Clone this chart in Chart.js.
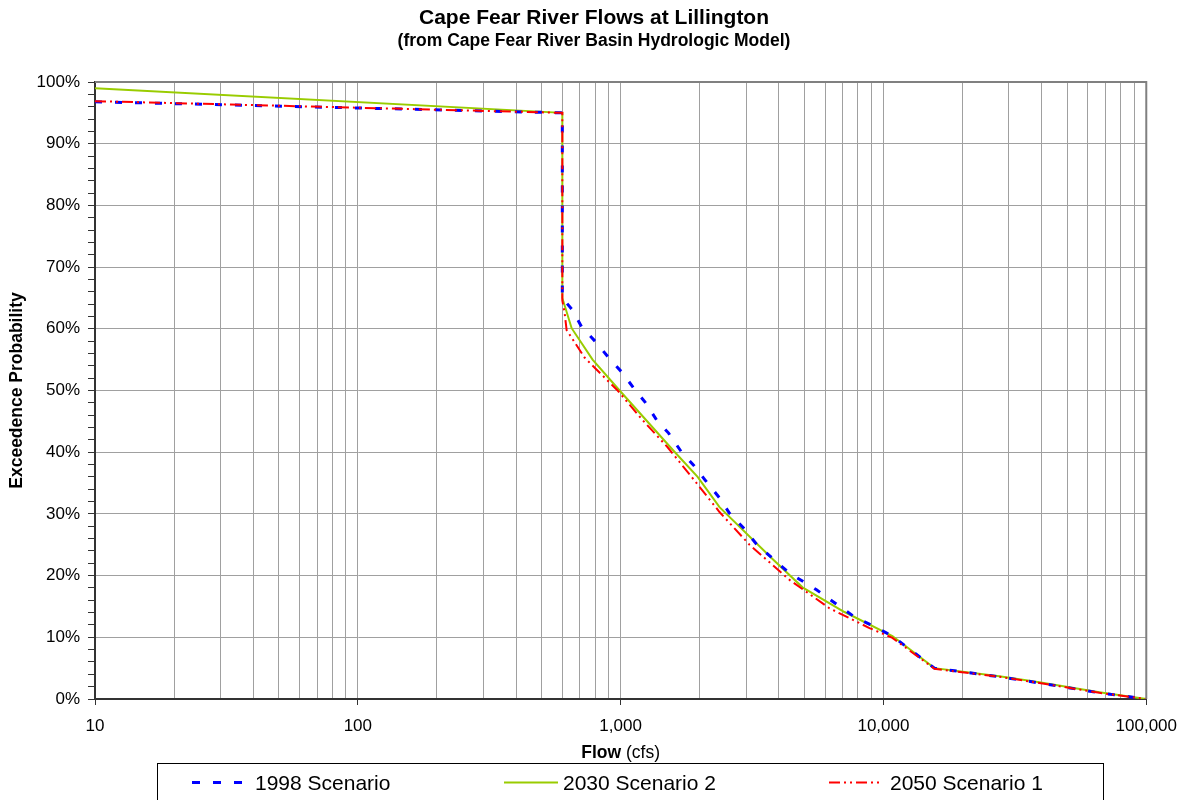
<!DOCTYPE html>
<html>
<head>
<meta charset="utf-8">
<title>Cape Fear River Flows at Lillington</title>
<script src="https://cdn.jsdelivr.net/npm/chart.js@4.4.1/dist/chart.umd.min.js"></script>
<style>
  html, body { margin: 0; padding: 0; background: #ffffff; }
  #wrap { position: relative; width: 1188px; height: 800px; }
</style>
</head>
<body>
<div id="wrap"><canvas id="chart" width="1188" height="800"></canvas></div>
<script>
// Flow-duration curves: flow (cfs) against exceedence probability (%)
const flow1998 = [10, 600, 600, 651, 711, 803, 901, 1009, 1130, 1245, 1371, 1522, 1706, 1895, 2086, 2378, 2596, 2936, 3289, 3851, 4393, 5562, 6513, 7762, 9163, 10818, 15630, 27600, 39200, 66300, 100000];
const prob1998 = [96.8, 95.0, 65.0, 63.2, 60.3, 57.9, 55.3, 53.0, 50.2, 48.0, 45.2, 43.1, 40.0, 37.9, 35.6, 32.6, 30.1, 27.7, 25.1, 22.5, 20.4, 17.7, 15.6, 13.3, 11.8, 10.2, 5.0, 3.6, 2.6, 1.0, 0.0];

const flow2030 = [10, 600, 600, 651, 782, 991, 1577, 1963, 2378, 3784, 4920, 7107, 10818, 15630, 27600, 39200, 66300, 100000];
const prob2030 = [99.0, 95.0, 65.0, 60.1, 55.0, 50.0, 40.4, 36.0, 31.1, 22.7, 18.1, 14.1, 10.2, 5.0, 3.7, 2.7, 1.1, 0.0];

const flow2050 = [10, 600, 600, 612, 623, 730, 974, 1212, 1509, 1862, 2378, 3093, 4393, 6234, 8847, 10818, 15630, 27600, 39200, 66300, 100000];
const prob2050 = [96.9, 95.0, 64.6, 62.6, 59.8, 55.3, 50.0, 45.2, 40.8, 36.0, 30.3, 25.0, 19.3, 14.7, 11.5, 9.9, 4.9, 3.6, 2.6, 1.0, 0.0];

const seriesNames = ['1998 Scenario', '2030 Scenario 2', '2050 Scenario 1'];
const xTickValues = [10, 100, 1000, 10000, 100000];
const yTickValues = [0, 10, 20, 30, 40, 50, 60, 70, 80, 90, 100];

const titleText = 'Cape Fear River Flows at Lillington';
const subtitleText = '(from Cape Fear River Basin Hydrologic Model)';
const yAxisTitle = 'Exceedence Probability';
const xAxisTitleBold = 'Flow';
const xAxisTitleRest = ' (cfs)';

const FONT = '"Liberation Sans", Arial, Helvetica, sans-serif';
const BLUE = '#0000ff', GREEN = '#99cc00', RED = '#ff0000';
const GRID = '#a0a0a0';

function pairs(xs, ys) { return xs.map((x, i) => ({ x: x, y: ys[i] })); }

// every 1..9 multiple inside each decade, so each gets a grid line
const logGridValues = [];
for (let d = 10; d < 100000; d *= 10) {
  for (let m = 1; m < 10; m++) logGridValues.push(m * d);
}
logGridValues.push(100000);
const isDecade = v => xTickValues.some(t => Math.abs(t - v) < 1e-6);

const styles = [
  { color: BLUE, width: 3, dash: [7, 13] },
  { color: GREEN, width: 2, dash: [] },
  { color: RED, width: 2, dash: [11, 4, 2, 4, 2, 4] }
];

// headings, axis titles, frame and legend box
const decorations = {
  id: 'decorations',
  afterDraw(chart) {
    const ctx = chart.ctx;
    const a = chart.chartArea;
    ctx.save();
    // top and right frame
    ctx.strokeStyle = '#808080';
    ctx.lineWidth = 2;
    ctx.beginPath();
    ctx.moveTo(a.left, a.top);
    ctx.lineTo(a.right, a.top);
    ctx.lineTo(a.right, a.bottom);
    ctx.stroke();

    ctx.fillStyle = '#000000';
    ctx.textAlign = 'center';
    ctx.textBaseline = 'alphabetic';
    ctx.font = 'bold 21px ' + FONT;
    ctx.fillText(titleText, 594, 24);
    ctx.font = 'bold 17.5px ' + FONT;
    ctx.fillText(subtitleText, 594, 46);

    // y axis title
    ctx.save();
    ctx.translate(22, (a.top + a.bottom) / 2);
    ctx.rotate(-Math.PI / 2);
    ctx.font = 'bold 17.5px ' + FONT;
    ctx.fillText(yAxisTitle, 0, 0);
    ctx.restore();

    // x axis title, bold word followed by plain unit
    ctx.textAlign = 'left';
    ctx.font = 'bold 17.5px ' + FONT;
    const w1 = ctx.measureText(xAxisTitleBold).width;
    ctx.font = '17.5px ' + FONT;
    const w2 = ctx.measureText(xAxisTitleRest).width;
    const x0 = (a.left + a.right) / 2 - (w1 + w2) / 2;
    ctx.font = 'bold 17.5px ' + FONT;
    ctx.fillText(xAxisTitleBold, x0, 758);
    ctx.font = '17.5px ' + FONT;
    ctx.fillText(xAxisTitleRest, x0 + w1, 758);

    // legend
    ctx.strokeStyle = '#000000';
    ctx.lineWidth = 1;
    ctx.setLineDash([]);
    ctx.strokeRect(157.5, 763.5, 946, 60);
    const items = [
      { x1: 192, x2: 242, tx: 255 },
      { x1: 504, x2: 558, tx: 563 },
      { x1: 829, x2: 883, tx: 890 }
    ];
    ctx.font = '21px ' + FONT;
    items.forEach((it, i) => {
      const s = styles[i];
      ctx.strokeStyle = s.color;
      ctx.lineWidth = s.width;
      ctx.setLineDash(i === 0 ? [8, 13] : s.dash);
      ctx.beginPath();
      ctx.moveTo(it.x1, 782.5);
      ctx.lineTo(it.x2, 782.5);
      ctx.stroke();
      ctx.setLineDash([]);
      ctx.fillStyle = '#000000';
      ctx.fillText(seriesNames[i], it.tx, 790);
    });
    ctx.restore();
  }
};

const datasets = [
  { label: seriesNames[0], data: pairs(flow1998, prob1998), order: 1 },
  { label: seriesNames[1], data: pairs(flow2030, prob2030), order: 2 },
  { label: seriesNames[2], data: pairs(flow2050, prob2050), order: 0 }
].map((d, i) => Object.assign(d, {
  borderColor: styles[i].color,
  backgroundColor: styles[i].color,
  borderWidth: styles[i].width,
  borderDash: styles[i].dash,
  pointRadius: 0,
  showLine: true,
  fill: false,
  tension: 0
}));

new Chart(document.getElementById('chart'), {
  type: 'scatter',
  data: { datasets: datasets },
  options: {
    responsive: false,
    animation: false,
    devicePixelRatio: 1,
    layout: { padding: { top: 82, right: 41, left: 0, bottom: 0 } },
    plugins: {
      legend: { display: false },
      title: { display: false },
      tooltip: { enabled: false }
    },
    scales: {
      x: {
        type: 'logarithmic',
        min: 10,
        max: 100000,
        afterBuildTicks(scale) {
          scale.ticks = logGridValues.map(v => ({ value: v, major: isDecade(v) }));
        },
        afterFit(scale) { scale.height = 101; },
        ticks: {
          autoSkip: false,
          maxRotation: 0,
          padding: 11,
          color: '#000000',
          font: { family: FONT, size: 17 },
          callback: v => isDecade(v) ? Number(v).toLocaleString('en-US') : ''
        },
        grid: {
          color: GRID,
          lineWidth: 1,
          drawTicks: true,
          tickLength: 6,
          tickColor: c => (c.tick && isDecade(c.tick.value)) ? '#333333' : 'rgba(0,0,0,0)'
        },
        border: { display: true, color: '#333333', width: 2 }
      },
      y: {
        type: 'linear',
        min: 0,
        max: 100,
        afterBuildTicks(scale) {
          const t = [];
          for (let v = 0; v <= 100; v += 2) t.push({ value: v });
          scale.ticks = t;
        },
        afterFit(scale) { scale.width = 95; },
        ticks: {
          autoSkip: false,
          padding: 8,
          color: '#000000',
          font: { family: FONT, size: 17 },
          callback: v => yTickValues.includes(v) ? v + '%' : ''
        },
        grid: {
          color: c => (c.tick && yTickValues.includes(c.tick.value)) ? GRID : 'rgba(0,0,0,0)',
          lineWidth: 1,
          drawTicks: true,
          tickLength: 7,
          tickColor: '#333333'
        },
        border: { display: true, color: '#333333', width: 2 }
      }
    }
  },
  plugins: [decorations]
});
</script>
</body>
</html>
